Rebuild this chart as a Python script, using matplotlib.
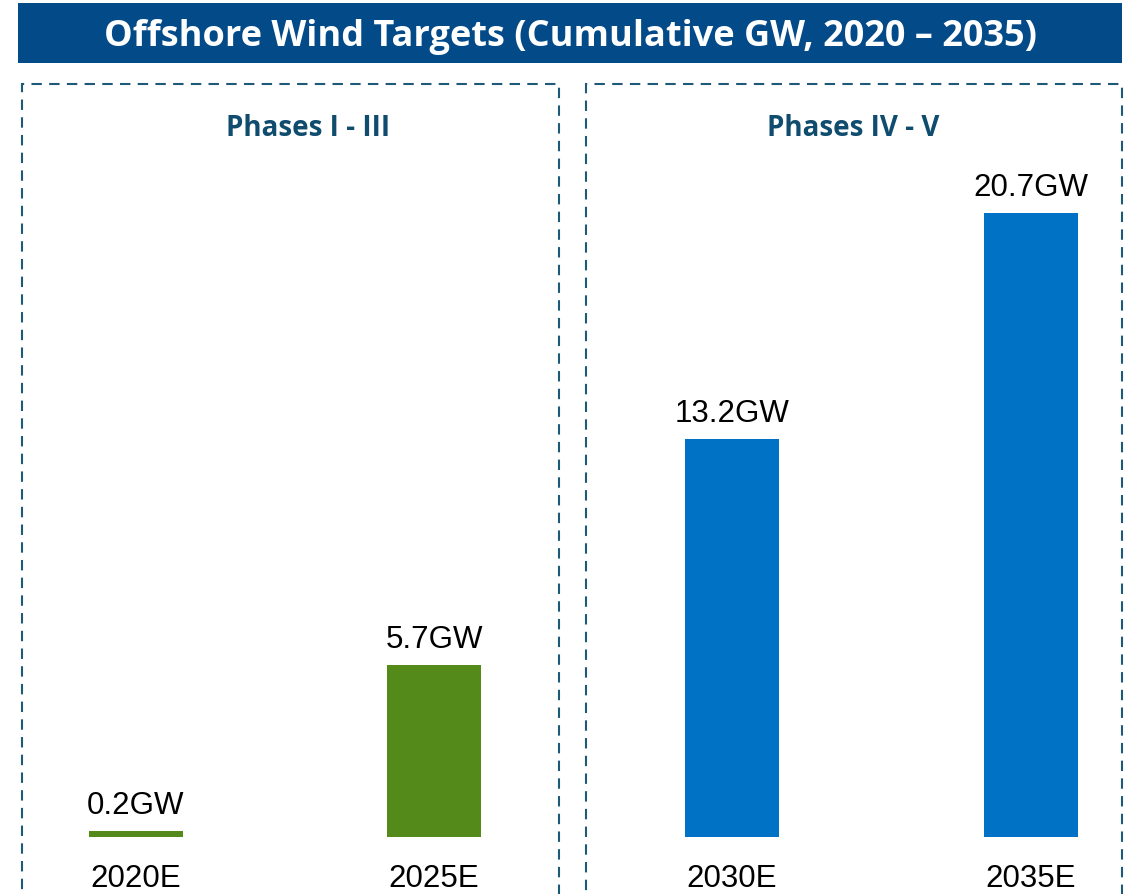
import numpy as np
import matplotlib
matplotlib.use('Agg')
import matplotlib.pyplot as plt
from matplotlib.patches import Rectangle

# data
years_left = ['2020E', '2025E']
values_left = [0.2, 5.7]
years_right = ['2030E', '2035E']
values_right = [13.2, 20.7]
labels_left = ['0.2GW', '5.7GW']
labels_right = ['13.2GW', '20.7GW']

W, H = 1132, 895
fig = plt.figure(figsize=(W / 100, H / 100), dpi=100)

def fx(px):
    return px / W

def fy(py):
    # py measured from the top of the picture
    return 1 - py / H

# title bar
fig.patches.append(Rectangle((fx(18), fy(64)), fx(1104), 60 / H, transform=fig.transFigure,
                             facecolor='#034a88', edgecolor='none'))
fig.text(fx(570), fy(37), 'Offshore Wind Targets (Cumulative GW, 2020 \u2013 2035)',
         ha='center', va='center', color='white', fontsize=26, fontweight='bold',
         family='Open Sans')

# dashed panel boxes
box_col = '#1d5a78'
for x0, x1 in [(22, 559), (586, 1122)]:
    fig.patches.append(Rectangle((fx(x0), fy(920)), fx(x1 - x0), 835 / H, transform=fig.transFigure,
                                 facecolor='none', edgecolor=box_col, lw=1.5,
                                 linestyle=(0, (5, 3.5)), clip_on=False))

fig.text(fx(308), fy(129), 'Phases I - III', ha='center', va='center', color='#0f4c6e',
         fontsize=20, fontweight='bold', family='Open Sans')
fig.text(fx(853), fy(129), 'Phases IV - V', ha='center', va='center', color='#0f4c6e',
         fontsize=20, fontweight='bold', family='Open Sans')

# shared scale: 20.7 GW -> 624 px
px_per_gw = 624 / 20.7
base = 838
top = 150
ymax = (base - top) / px_per_gw

def panel(x0, x1, c0, c1, years, vals, labs, color):
    ax = fig.add_axes([fx(x0), fy(base), fx(x1 - x0), (base - top) / H])
    sep = c1 - c0
    ax.set_xlim((x0 - c0) / sep, (x1 - c0) / sep)
    ax.set_ylim(0, ymax)
    pos = np.arange(len(vals))
    bars = ax.bar(pos, vals, width=94 / sep, color=color)
    for b, lab in zip(bars, labs):
        ax.annotate(lab, (b.get_x() + b.get_width() / 2, b.get_height()),
                    xytext=(0, 8), textcoords='offset points', ha='center', va='bottom',
                    fontsize=22.5, family='Liberation Sans')
    ax.set_xticks(pos)
    ax.set_xticklabels(years, fontsize=22.5, family='Liberation Sans')
    ax.tick_params(axis='x', length=0, pad=19)
    ax.set_yticks([])
    for s in ax.spines.values():
        s.set_visible(False)
    ax.patch.set_alpha(0)
    return ax

panel(22, 559, 136, 434, years_left, values_left, labels_left, '#548a1a')
panel(586, 1122, 732, 1031, years_right, values_right, labels_right, '#0072c6')

fig.savefig('out.png', dpi=100)
